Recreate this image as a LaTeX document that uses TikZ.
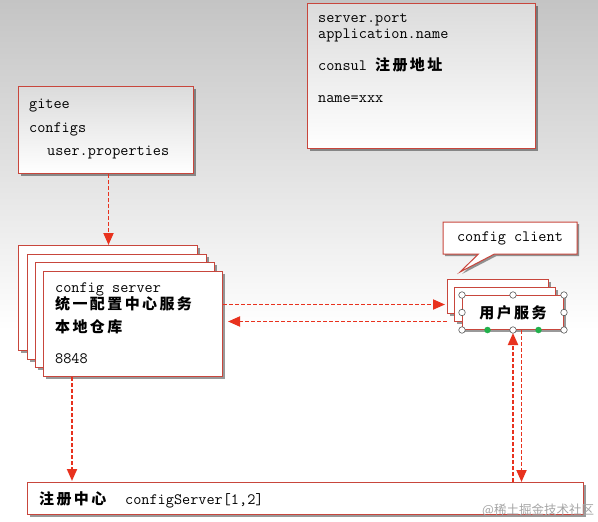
\documentclass[tikz,border=0pt]{standalone}
\usepackage{fontspec}
\newfontfamily\cjk{Noto Sans CJK SC}
\newfontfamily\cjkwide{Noto Sans CJK SC}[LetterSpace=16]
\usepackage{xcolor}
\usepackage{tikz}
\usetikzlibrary{
  arrows.meta,
  positioning,
  calc,
  shadows,
  shapes.callouts
}
\definecolor{BoxRed}{HTML}{C8463C}
\definecolor{FlowRed}{HTML}{E8321E}
\definecolor{BgGray}{HTML}{C4C4C4}
\definecolor{GripGreen}{HTML}{22B14C}
\newcommand\zh[1]{{\fontsize{15}{18}\cjkwide\bfseries #1}}

\tikzset{
  card/.style={draw=BoxRed, line width=1pt, fill=white, anchor=north west, inner sep=0pt,
    drop shadow={shadow xshift=2pt, shadow yshift=-2pt, fill=black, opacity=.4}},
  note/.style={card, top color=black!14, bottom color=white},
  flow/.style={draw=FlowRed, line width=1.9pt, dash pattern=on 4pt off 2pt,
    -{Triangle[width=10pt,length=12pt]}},
  code/.style={font=\fontsize{15.8}{18}\ttfamily, anchor=base west, inner sep=0pt},
  grip/.style={circle, draw=black!65, fill=white, line width=.6pt, inner sep=0pt, minimum size=6.5pt},
  gripon/.style={grip, draw=none, fill=GripGreen}
}

\begin{document}
\begin{tikzpicture}[x=1pt,y=-1pt]
  \shade[top color=BgGray, bottom color=white] (0,0) rectangle (598,330);
  \fill[white] (0,330) rectangle (598,522);
  \useasboundingbox (0,0) rectangle (598,522);

  % client properties
  \node[note, minimum width=228pt, minimum height=145pt] (props) at (307,3) {};
  \node[code] (port) at (318,23) {server.port};
  \node[code] (appname) at (318,38) {application.name};
  \node[code] (consul) at (318,70) {consul \zh{注册地址}};
  \node[code] (name) at (318,102) {name=xxx};

  % git repo
  \node[note, minimum width=175pt, minimum height=87pt] (git) at (18,86) {};
  \node[code] (gitee) at (29,108) {gitee};
  \node[code] (configs) at (29,132) {configs};
  \node[code] (userprops) at (47,155) {user.properties};

  % config server stack
  \foreach \i/\x/\y in {1/18/245, 2/27/254, 3/35/262}
    \node[card, minimum width=179pt, minimum height=105pt] (srv\i) at (\x,\y) {};
  \node[card, minimum width=179pt, minimum height=105pt] (srv) at (43,271) {};
  \node[code] (srvname) at (55,292) {config server};
  \node[code] (srvdesc) at (55,309) {\zh{统一配置中心服务}};
  \node[code] (srvlocal) at (55,332) {\zh{本地仓库}};
  \node[code] (srvport) at (55,363) {8848};

  % config client
  \coordinate (tip) at (460,272);
  \node[rectangle callout, draw=BoxRed, line width=1pt, fill=white,
        drop shadow={shadow xshift=2pt, shadow yshift=-2pt, fill=black, opacity=.4},
        minimum width=134pt, minimum height=32pt, inner sep=0pt,
        callout absolute pointer={(tip)}, callout pointer width=16pt,
        font=\fontsize{15.8}{18}\ttfamily] (cli) at (510,238) {config client};

  \node[card, minimum width=101pt, minimum height=34pt] (usr1) at (447,279) {};
  \node[card, minimum width=101pt, minimum height=34pt] (usr2) at (454,287) {};
  \node[card, minimum width=101pt, minimum height=34pt] (usr) at (462,295) {\zh{用户服务}};

  % registry
  \node[card, minimum width=556pt, minimum height=32pt] (reg) at (27,482) {};
  \node[code] (regname) at (39,504) {\zh{注册中心}};
  \node[code] (regsrv) at (125,504) {configServer[1,2]};
  \node[font=\fontsize{12.5}{14}\cjk, text=black!35, anchor=base west, inner sep=0pt] (mark) at (482,514) {@稀土掘金技术社区};

  % flows
  \draw[flow] ([xshift=2.5pt]git.south) -- ([xshift=2.5pt]git.south |- srv1.north);
  \draw[flow, shorten >=2pt] ([yshift=19.5pt]srv.east) -- ([yshift=19.5pt]srv.east -| usr1.west);
  \draw[flow, shorten >=5pt] ([yshift=2.5pt]srv.east -| usr1.west) -- ([yshift=2.5pt]srv.east);
  \draw[flow, shorten >=1pt] ([xshift=29pt]srv.south west) -- ([xshift=29pt]srv.south west |- reg.north);
  \draw[flow, shorten >=3pt] (usr.south |- reg.north) -- (usr.south);
  \draw[flow] ([xshift=8.5pt]usr.south) -- ([xshift=8.5pt]usr.south |- reg.north);

  % selection grips
  \foreach \a/\n in {north west/1, north/2, north east/3, east/4, south east/5, south/6, south west/7, west/8}
    \node[grip] (grip\n) at (usr.\a) {};
  \node[gripon] (gripl) at ($(usr.south west)!.25!(usr.south east)$) {};
  \node[gripon] (gripr) at ($(usr.south west)!.75!(usr.south east)$) {};
\end{tikzpicture}
\end{document}
